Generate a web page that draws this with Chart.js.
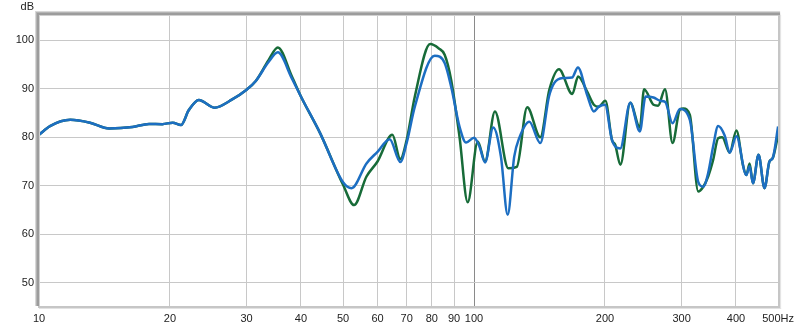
<!DOCTYPE html>
<html>
<head>
<meta charset="utf-8">
<script src="https://cdn.jsdelivr.net/npm/chart.js@4.4.1/dist/chart.umd.min.js"></script>
<style>
  body { margin: 0; background: #fff; }
  #wrap { width: 800px; height: 329px; }
</style>
</head>
<body>
<div id="wrap"><canvas id="responseChart" width="800" height="329"></canvas></div>
<script>
// tick positions
const xTicks = [10, 20, 30, 40, 50, 60, 70, 80, 90, 100, 200, 300, 400, 500];
const yTicks = [50, 60, 70, 80, 90, 100];

// blue trace (Hz / dB)
const freqBlue = [10, 10.6, 11.8, 13.1, 14.5, 16.4, 17.9, 19.2, 20.3, 21.2, 22.1, 23.3, 25.3, 27.8, 30, 31.5, 33.7, 35.4, 38.1, 40,
  44.3, 50, 52.3, 56.6, 60, 64, 67.7, 70, 73.1, 81.2, 85.6, 88.6, 92.6, 95.9, 100, 103, 106, 110.7, 115.3, 119.5,
  123.7, 127, 134, 142, 148.7, 152.7, 160, 168, 173.3, 182, 188.5, 193.5, 200, 207.6, 216.8, 228.6, 240.5, 248, 258.5, 268,
  275, 286, 297.4, 313.4, 327.6, 336.5, 345.3, 354.5, 364, 377, 387, 401, 422.6, 430, 437.7, 450.8, 465.3, 477.6, 486, 500];
const dbBlue = [80.5, 82.3, 83.6, 83.0, 81.8, 82.1, 82.75, 82.7, 83.0, 82.5, 85.6, 87.7, 86.1, 87.8, 89.8, 91.6, 95.5, 97.5, 92.2, 88.4,
  80.8, 70.7, 69.5, 74.6, 77.0, 79.6, 74.9, 78.8, 86.3, 96.8, 95.3, 90.4, 82.2, 78.9, 79.9, 78.0, 74.8, 82.0, 76.0, 64.0,
  76.0, 79.8, 83.2, 78.8, 88.4, 91.1, 92.2, 92.3, 94.4, 88.7, 85.3, 86.3, 86.7, 79.4, 77.7, 87.1, 81.2, 88.4, 88.2, 87.5,
  87.3, 82.9, 85.8, 83.6, 70.8, 69.8, 72.6, 78.1, 82.3, 80.3, 76.8, 80.2, 72.2, 74.0, 70.5, 76.4, 69.5, 75.0, 75.7, 82.2];

// green trace (Hz / dB)
const freqGreen = [10, 10.6, 11.8, 13.1, 14.5, 16.4, 17.9, 19.2, 20.3, 21.2, 22.1, 23.3, 25.3, 27.8, 30, 31.5, 33.7, 35.4, 38.1, 40,
  44.3, 50, 53, 56.6, 60, 64.9, 67.7, 70, 73.1, 79.3, 83, 85.6, 88.6, 92.6, 96.7, 102, 106, 111.7, 119.9, 125.4,
  132.5, 142, 149, 156.8, 168.2, 173.5, 182, 188.5, 193.5, 200.4, 207.6, 211, 217, 228.6, 240.5, 246, 258.5, 265, 274.8, 286,
  297.4, 303, 313.4, 327.6, 336.5, 345.3, 354.5, 364, 372, 387, 401, 415, 422.6, 430, 437.7, 450.8, 465.3, 477.6, 486, 500];
const dbGreen = [80.5, 82.3, 83.6, 83.0, 81.8, 82.1, 82.75, 82.7, 83.0, 82.5, 85.6, 87.7, 86.1, 87.8, 89.8, 91.6, 95.9, 98.5, 92.6, 88.4,
  80.8, 70.2, 66.0, 71.9, 75.0, 80.5, 75.5, 79.4, 88.4, 99.2, 98.3, 97.0, 91.8, 80.1, 66.6, 79.1, 75.0, 85.3, 73.6, 73.9,
  86.2, 80.0, 89.8, 94.0, 88.9, 92.5, 89.4, 86.7, 86.3, 87.5, 79.4, 78.5, 74.3, 87.1, 82.0, 89.9, 86.7, 86.5, 89.9, 78.8,
  85.7, 85.9, 84.6, 68.8, 69.8, 71.9, 75.3, 79.8, 80.0, 76.8, 81.4, 74.3, 72.2, 74.6, 70.5, 76.4, 69.5, 75.0, 75.7, 80.5];

const toPoints = (fs, vs) => fs.map((f, i) => ({ x: f, y: vs[i] }));

// sunken frame round the plot area plus the "dB" unit label
const framePlugin = {
  id: "frame",
  afterDraw(chart) {
    const { ctx, chartArea: a } = chart;
    const h = a.bottom - a.top, w = a.right - a.left;
    ctx.save();
    // light shadow right / bottom
    ctx.fillStyle = "#c6c6c6";
    ctx.fillRect(a.right, a.top - 1, 2, h + 3);
    ctx.fillRect(a.left - 1, a.bottom, w + 3, 2);
    ctx.fillStyle = "#e2e2e2";
    ctx.fillRect(a.right + 2, a.top, 1, h + 3);
    ctx.fillRect(a.left, a.bottom + 2, w + 3, 1);
    // darker bevel left / top
    ctx.fillStyle = "#d8d8d8";
    ctx.fillRect(a.left - 4, a.top - 4, 1, h + 4);
    ctx.fillRect(a.left - 4, a.top - 4, w + 6, 1);
    ctx.fillStyle = "#b4b4b4";
    ctx.fillRect(a.left - 3, a.top - 3, 1, h + 3);
    ctx.fillRect(a.left - 3, a.top - 3, w + 5, 1);
    ctx.fillStyle = "#9c9c9c";
    ctx.fillRect(a.left - 2, a.top - 2, 2, h + 2);
    ctx.fillRect(a.left - 2, a.top - 2, w + 4, 2);
    ctx.fillStyle = "#d0d0d0";
    ctx.fillRect(a.left, a.top, 1, h);
    ctx.fillRect(a.left, a.top, w, 1);
    ctx.fillStyle = "#222";
    ctx.font = "11px 'Liberation Sans', Arial, sans-serif";
    ctx.textAlign = "right";
    ctx.textBaseline = "middle";
    ctx.fillText("dB", a.left - 5, 7);
    ctx.restore();
  }
};

Chart.defaults.font.family = "'Liberation Sans', Arial, sans-serif";
Chart.defaults.font.size = 11;
Chart.defaults.color = "#222";

const chart = new Chart(document.getElementById("responseChart").getContext("2d"), {
  type: "line",
  data: {
    datasets: [
      {
        label: "blue",
        data: toPoints(freqBlue, dbBlue),
        borderColor: "#1c6ec2",
        borderWidth: 2.5,
        pointRadius: 0,
        cubicInterpolationMode: "monotone",
        fill: false
      },
      {
        label: "green",
        data: toPoints(freqGreen, dbGreen),
        borderColor: "#176b38",
        borderWidth: 2.5,
        pointRadius: 0,
        cubicInterpolationMode: "monotone",
        fill: false
      }
    ]
  },
  options: {
    responsive: false,
    animation: false,
    layout: { padding: { top: 15, right: 19, left: 0, bottom: 0 } },
    plugins: { legend: { display: false }, tooltip: { enabled: false } },
    scales: {
      x: {
        type: "logarithmic",
        min: 10,
        max: 500,
        afterBuildTicks: axis => { axis.ticks = xTicks.map(v => ({ value: v })); },
        afterFit: axis => { axis.height = 23; },
        grid: {
          color: c => (c.tick && c.tick.value === 100 ? "#8a8a8a" : "#c8c8c8"),
          drawTicks: false
        },
        border: { display: false },
        ticks: {
          autoSkip: false,
          maxRotation: 0,
          padding: 6,
          callback: v => (v === 500 ? "500Hz" : String(v))
        }
      },
      y: {
        min: 45.2,
        max: 105.2,
        afterBuildTicks: axis => { axis.ticks = yTicks.map(v => ({ value: v })); },
        afterFit: axis => { axis.width = 39; },
        grid: { color: "#c8c8c8", drawTicks: false },
        border: { display: false },
        ticks: { padding: 5 }
      }
    }
  },
  plugins: [framePlugin]
});
</script>
</body>
</html>
